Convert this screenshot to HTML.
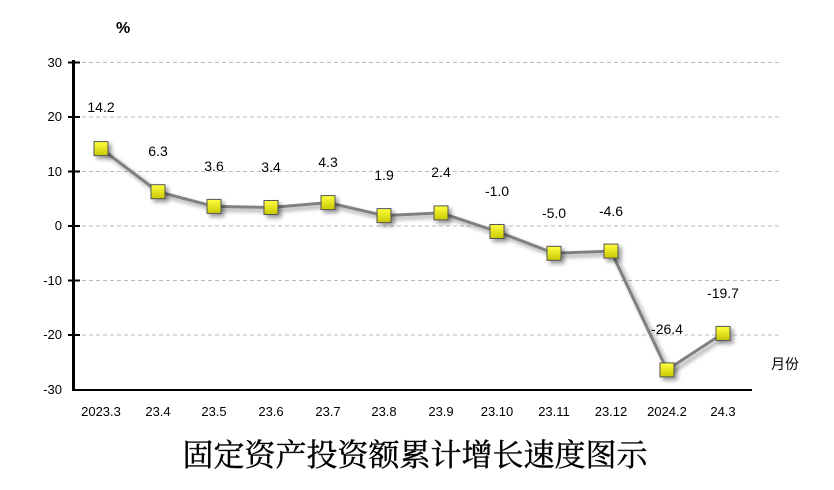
<!DOCTYPE html>
<html><head><meta charset="utf-8"><style>body{margin:0;background:#fff}svg{display:block}</style></head>
<body>
<svg width="834" height="490" viewBox="0 0 834 490" xmlns="http://www.w3.org/2000/svg" font-family="Liberation Sans, DejaVu Sans, sans-serif">
<defs>
<linearGradient id="g" x1="0" y1="0" x2="0" y2="1"><stop offset="0" stop-color="#ffff40"/><stop offset="1" stop-color="#c8c800"/></linearGradient>
<filter id="s" x="-50%" y="-50%" width="200%" height="200%"><feGaussianBlur in="SourceAlpha" stdDeviation="2"/><feOffset dx="3" dy="3"/><feComponentTransfer><feFuncA type="linear" slope="0.4"/></feComponentTransfer><feMerge><feMergeNode/><feMergeNode in="SourceGraphic"/></feMerge></filter>
</defs>
<g stroke="#bbb" stroke-dasharray="4,3" stroke-width="1">
<line x1="75" y1="62.5" x2="780" y2="62.5"/><line x1="75" y1="117" x2="780" y2="117"/><line x1="75" y1="171.5" x2="780" y2="171.5"/><line x1="75" y1="226" x2="780" y2="226"/><line x1="75" y1="280.5" x2="780" y2="280.5"/><line x1="75" y1="335" x2="780" y2="335"/>
</g>
<line x1="73.5" y1="60" x2="73.5" y2="391" stroke="#000" stroke-width="3"/>
<line x1="72" y1="390" x2="752" y2="390" stroke="#000" stroke-width="2"/>
<g stroke="#000" stroke-width="2">
<line x1="68" y1="62.5" x2="80" y2="62.5"/><line x1="68" y1="117" x2="80" y2="117"/><line x1="68" y1="171.5" x2="80" y2="171.5"/><line x1="68" y1="226" x2="80" y2="226"/><line x1="68" y1="280.5" x2="80" y2="280.5"/><line x1="68" y1="335" x2="80" y2="335"/>
</g>
<g font-size="13" text-anchor="end" fill="#000">
<text x="62" y="67">30</text><text x="62" y="121">20</text><text x="62" y="176">10</text><text x="62" y="230">0</text><text x="62" y="285">-10</text><text x="62" y="339">-20</text><text x="62" y="394">-30</text>
</g>
<text x="116" y="33" font-size="16" font-weight="bold">%</text>
<polyline fill="none" stroke="#808080" stroke-width="3" filter="url(#s)" points="101,148.6 158,191.7 214,206.4 271,207.5 328,202.6 384,215.6 441,212.9 497,231.5 554,253.3 611,251.1 667,369.9 723,333.4"/>
<g fill="url(#g)" stroke="#555" stroke-width="1" filter="url(#s)">
<rect x="94" y="141.6" width="14" height="14"/><rect x="151" y="184.7" width="14" height="14"/><rect x="207" y="199.4" width="14" height="14"/><rect x="264" y="200.5" width="14" height="14"/><rect x="321" y="195.6" width="14" height="14"/><rect x="377" y="208.6" width="14" height="14"/><rect x="434" y="205.9" width="14" height="14"/><rect x="490" y="224.5" width="14" height="14"/><rect x="547" y="246.3" width="14" height="14"/><rect x="604" y="244.1" width="14" height="14"/><rect x="660" y="362.9" width="14" height="14"/><rect x="716" y="326.4" width="14" height="14"/>
</g>
<g font-size="14" text-anchor="middle" fill="#000">
<text x="101" y="112">14.2</text><text x="158" y="156">6.3</text><text x="214" y="171">3.6</text><text x="271" y="172">3.4</text><text x="328" y="167">4.3</text><text x="384" y="180">1.9</text><text x="441" y="177">2.4</text><text x="497" y="196">-1.0</text><text x="554" y="218">-5.0</text><text x="611" y="216">-4.6</text><text x="667" y="334">-26.4</text><text x="723" y="298">-19.7</text>
</g>
<g font-size="13" text-anchor="middle" fill="#000">
<text x="101" y="416">2023.3</text><text x="158" y="416">23.4</text><text x="214" y="416">23.5</text><text x="271" y="416">23.6</text><text x="328" y="416">23.7</text><text x="384" y="416">23.8</text><text x="441" y="416">23.9</text><text x="497" y="416">23.10</text><text x="554" y="416">23.11</text><text x="611" y="416">23.12</text><text x="667" y="416">2024.2</text><text x="723" y="416">24.3</text>
</g>
<text x="785" y="369" font-size="14" text-anchor="middle" font-family="Liberation Sans, Noto Sans CJK SC, sans-serif">月份</text>
<text x="415" y="466" font-size="31" text-anchor="middle" font-family="Liberation Serif, Noto Serif CJK SC, serif" stroke="#000" stroke-width="0.4">固定资产投资额累计增长速度图示</text>
</svg>
</body></html>
